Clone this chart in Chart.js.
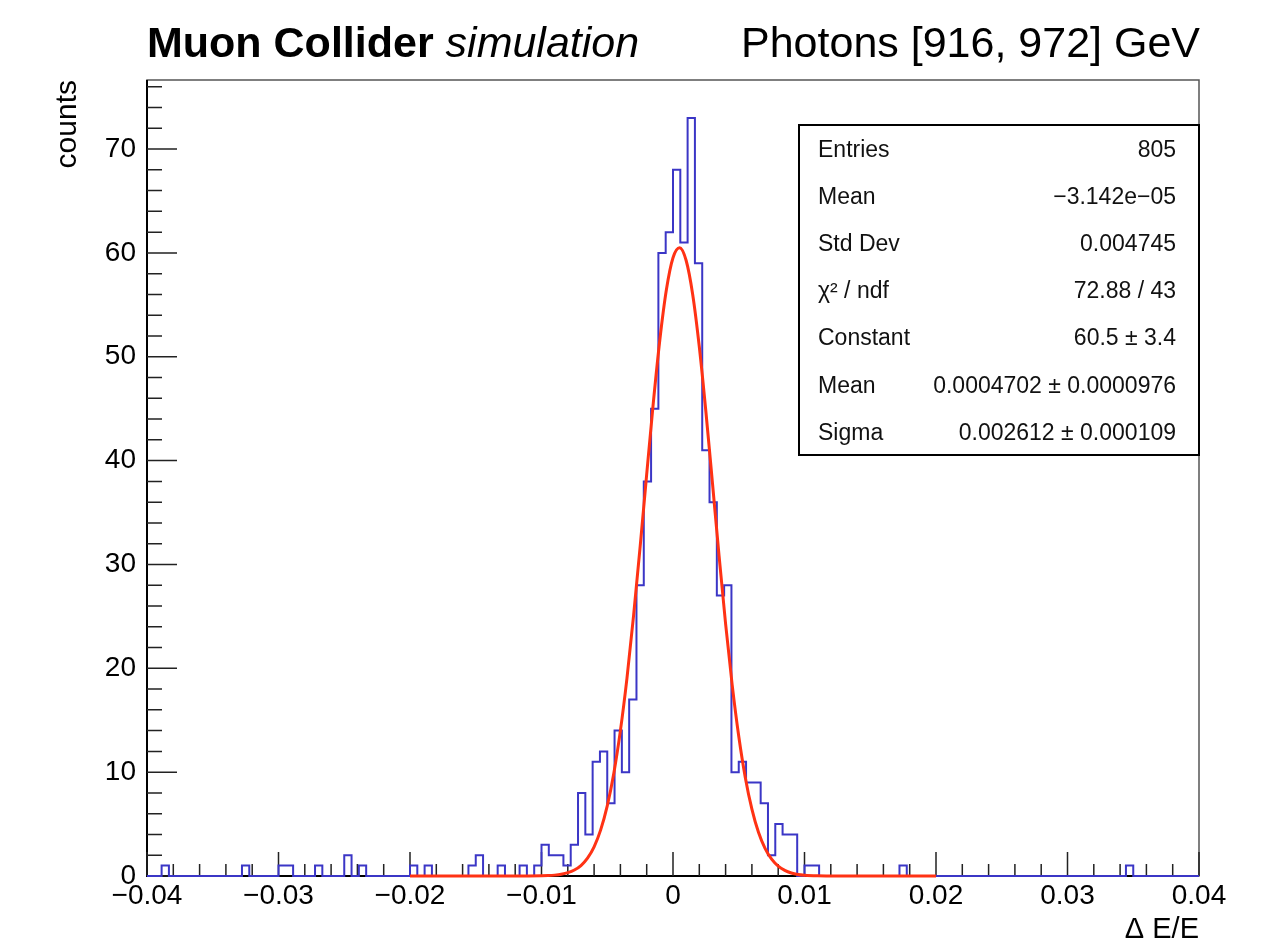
<!DOCTYPE html>
<html>
<head>
<meta charset="utf-8">
<script src="https://cdn.jsdelivr.net/npm/chart.js@4.4.1/dist/chart.umd.min.js"></script>
<style>
html,body{margin:0;padding:0;background:#fff;}
#wrap{position:relative;width:1272px;height:947px;}
</style>
</head>
<body>
<div id="wrap"><canvas id="c" width="1272" height="947"></canvas></div>
<script>
// ---- data ----
const xMin = -0.04, xMax = 0.04, nBins = 144;
const counts = [
  0,0,1,0,0,0,0,0,0,0,0,0,
  0,1,0,0,0,0,1,1,0,0,0,1,
  0,0,0,2,0,1,0,0,0,0,0,0,
  1,0,1,0,0,0,0,0,1,2,0,0,
  1,0,0,1,0,1,3,2,2,1,3,8,
  4,11,12,7,14,10,17,28,38,45,60,62,
  68,61,73,59,41,36,27,28,10,11,9,9,
  7,2,5,4,4,0,1,1,0,0,0,0,
  0,0,0,0,0,0,0,1,0,0,0,0,
  0,0,0,0,0,0,0,0,0,0,0,0,
  0,0,0,0,0,0,0,0,0,0,0,0,
  0,0,1,0,0,0,0,0,0,0,0,0
];
// Gaussian fit curve
const fitX = [-0.02,-0.018,-0.016,-0.014,-0.012,-0.011,-0.010,-0.0095,-0.009,-0.0085,-0.008,-0.0075,-0.007,-0.0065,-0.006,-0.0055,-0.005,-0.0045,-0.004,-0.0035,-0.003,-0.0025,-0.002,-0.0015,-0.001,-0.0005,0,0.0005,0.001,0.0015,0.002,0.0025,0.003,0.0035,0.004,0.0045,0.005,0.0055,0.006,0.0065,0.007,0.0075,0.008,0.0085,0.009,0.0095,0.010,0.011,0.012,0.014,0.016,0.018,0.02];
const fitY = [0,0,0,0,0.001,0.004,0.02,0.04,0.085,0.17,0.32,0.58,1.01,1.72,2.81,4.44,6.75,9.9,14.0,19.06,25.04,31.7,38.69,45.53,51.64,56.47,59.53,60.5,59.27,55.98,50.96,44.73,37.85,30.87,24.27,18.4,13.45,9.47,6.44,4.21,2.66,1.62,0.95,0.54,0.29,0.15,0.08,0.02,0.004,0,0,0,0];
const xTicks = [-0.04,-0.03,-0.02,-0.01,0,0.01,0.02,0.03,0.04];
const xTickLabels = ["\u22120.04","\u22120.03","\u22120.02","\u22120.01","0","0.01","0.02","0.03","0.04"];
const yTicks = [0,10,20,30,40,50,60,70];
const yMax = 76.65;
const statLabels = ["Entries","Mean","Std Dev","\u03C7\u00B2 / ndf","Constant","Mean","Sigma"];
const statValues = ["805","\u22123.142e\u221205","0.004745","72.88 / 43","60.5 \u00B1 3.4","0.0004702 \u00B1 0.0000976","0.002612 \u00B1 0.000109"];
const titleBold = "Muon Collider";
const titleItalic = "simulation";
const titleRight = "Photons [916, 972] GeV";

// ---- build datasets ----
const binW = (xMax - xMin) / nBins;
const histPts = counts.map((c, k) => ({x: xMin + k * binW, y: c}));
histPts.push({x: xMax, y: 0});
const fitPts = fitX.map((v, i) => ({x: v, y: fitY[i]}));

const FONT = "'Liberation Sans', Arial, Helvetica, sans-serif";

const rootDeco = {
  id: 'rootDeco',
  beforeDatasetsDraw(chart) {
    const {ctx, chartArea: a, scales: {x, y}} = chart;
    ctx.save();
    ctx.strokeStyle = '#555';
    ctx.lineWidth = 1.5;
    ctx.strokeRect(a.left, a.top, a.right - a.left, a.bottom - a.top);
    ctx.strokeStyle = '#000';
    ctx.lineWidth = 2;
    ctx.beginPath();
    ctx.moveTo(a.left, a.top); ctx.lineTo(a.left, a.bottom); ctx.lineTo(a.right, a.bottom);
    ctx.stroke();
    ctx.strokeStyle = '#222';
    ctx.lineWidth = 1.5;
    ctx.beginPath();
    for (let i = 0; i < xTicks.length; i++) {
      const px = x.getPixelForValue(xTicks[i]);
      ctx.moveTo(px, a.bottom); ctx.lineTo(px, a.bottom - 24);
      if (i < xTicks.length - 1) {
        for (let j = 1; j < 5; j++) {
          const v = xTicks[i] + j * (xTicks[i + 1] - xTicks[i]) / 5;
          const pm = x.getPixelForValue(v);
          ctx.moveTo(pm, a.bottom); ctx.lineTo(pm, a.bottom - 12);
        }
      }
    }
    for (let i = 0; i < yTicks.length; i++) {
      const py = y.getPixelForValue(yTicks[i]);
      ctx.moveTo(a.left, py); ctx.lineTo(a.left + 30, py);
    }
    const major = yTicks[1] - yTicks[0];
    const step = major / 5;
    for (let v = step; v < yMax; v += step) {
      if (Math.abs(v / major - Math.round(v / major)) < 1e-6) continue;
      const py = y.getPixelForValue(v);
      ctx.moveTo(a.left, py); ctx.lineTo(a.left + 15, py);
    }
    ctx.stroke();
    ctx.restore();
  },
  afterDatasetsDraw(chart) {
    const {ctx, chartArea: a} = chart;
    ctx.save();
    ctx.fillStyle = '#000';
    ctx.textBaseline = 'alphabetic';
    ctx.textAlign = 'left';
    ctx.font = "bold 43px " + FONT;
    ctx.fillText(titleBold, a.left, 57);
    const wb = ctx.measureText(titleBold + " ").width;
    ctx.font = "italic 43px " + FONT;
    ctx.fillText(titleItalic, a.left + wb, 57);
    ctx.font = "43px " + FONT;
    ctx.textAlign = 'right';
    ctx.fillText(titleRight, a.right + 1, 57);
    // stats box
    const bx = 799, by = 125, bw = a.right - 799, bh = 330;
    ctx.fillStyle = '#fff';
    ctx.fillRect(bx, by, bw, bh);
    ctx.strokeStyle = '#000';
    ctx.lineWidth = 2;
    ctx.strokeRect(bx, by, bw, bh);
    ctx.fillStyle = '#111';
    ctx.font = "23px " + FONT;
    ctx.textBaseline = 'middle';
    const rowH = bh / statLabels.length;
    for (let i = 0; i < statLabels.length; i++) {
      const ry = by + rowH * (i + 0.5) + 2;
      ctx.textAlign = 'left';
      ctx.fillText(statLabels[i], bx + 19, ry);
      ctx.textAlign = 'right';
      ctx.fillText(statValues[i], bx + bw - 23, ry);
    }
    ctx.restore();
  }
};

new Chart(document.getElementById('c'), {
  type: 'line',
  data: {
    datasets: [
      {
        label: 'hist',
        data: histPts,
        stepped: 'before',
        borderColor: '#3b36c6',
        borderWidth: 2,
        pointRadius: 0,
        fill: false,
        clip: 4,
        order: 2
      },
      {
        label: 'fit',
        data: fitPts,
        borderColor: '#ff3214',
        borderWidth: 3,
        pointRadius: 0,
        cubicInterpolationMode: 'monotone',
        fill: false,
        clip: 4,
        order: 1
      }
    ]
  },
  options: {
    responsive: false,
    animation: false,
    devicePixelRatio: 1,
    layout: {padding: {left: 0, top: 80, right: 73, bottom: 0}},
    plugins: {legend: {display: false}, tooltip: {enabled: false}, title: {display: false}},
    scales: {
      x: {
        type: 'linear',
        min: xMin, max: xMax,
        grid: {display: false, drawTicks: false},
        border: {display: false},
        afterBuildTicks: (s) => { s.ticks = xTicks.map(v => ({value: v})); },
        afterFit: (s) => { s.height = 71; },
        ticks: {
          autoSkip: false, maxRotation: 0, padding: 3,
          color: '#000',
          font: {family: FONT, size: 28},
          callback: (v) => { const i = xTicks.findIndex(t => Math.abs(t - v) < 1e-9); return i >= 0 ? xTickLabels[i] : ''; }
        },
        title: {display: true, text: '\u0394 E/E', align: 'end', color: '#000', font: {family: FONT, size: 29}, padding: {top: 0, bottom: 0}}
      },
      y: {
        type: 'linear',
        min: 0, max: yMax,
        grid: {display: false, drawTicks: false},
        border: {display: false},
        afterBuildTicks: (s) => { s.ticks = yTicks.map(v => ({value: v})); },
        afterFit: (s) => { s.width = 147; },
        ticks: {
          autoSkip: false, padding: 11,
          color: '#000',
          font: {family: FONT, size: 28}
        },
        title: {display: true, text: 'counts', align: 'end', color: '#000', font: {family: FONT, size: 30}, padding: {top: 50, bottom: 0}}
      }
    }
  },
  plugins: [rootDeco]
});
</script>
</body>
</html>
